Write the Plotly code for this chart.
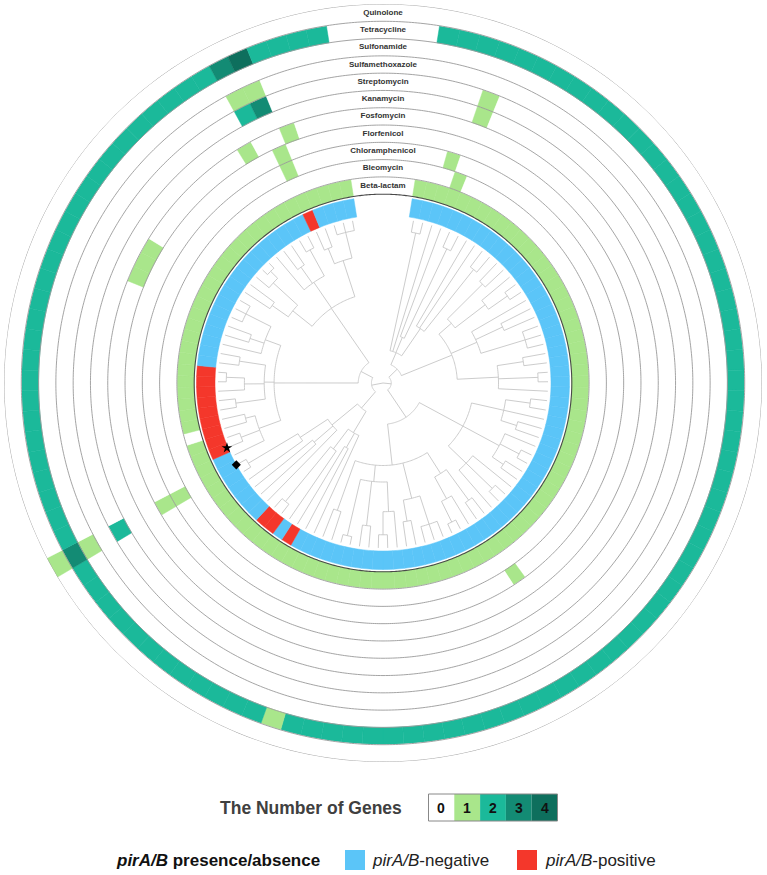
import numpy as np
import plotly.graph_objects as go

# ---------------- data ----------------
N_TIPS = 104
ANTIBIOTICS = ["Beta-lactam", "Bleomycin", "Chloramphenicol", "Florfenicol", "Fosfomycin",
               "Kanamycin", "Streptomycin", "Sulfamethoxazole", "Sulfonamide",
               "Tetracycline", "Quinolone"]          # inner -> outer ring
RING_DEFAULT = [1, 0, 0, 0, 0, 0, 0, 0, 0, 2, 0]     # value of most tips in each ring
# tip index -> number of genes, where it differs from the ring default
BETA_LACTAM = {74: 0}
BLEOMYCIN = {3: 1}
CHLORAMPHENICOL = {2: 1, 41: 1, 70: 1, 99: 1}
FLORFENICOL = {70: 1, 99: 1}
FOSFOMYCIN = {86: 1, 87: 1, 88: 1, 97: 1, 100: 1}
KANAMYCIN = {3: 1}
STREPTOMYCIN = {3: 1, 70: 2, 98: 2, 99: 3}
SULFAMETHOXAZOLE = {98: 1, 99: 1}
SULFONAMIDE = {70: 1}
TETRACYCLINE = {57: 1, 70: 3, 98: 3, 99: 4}
QUINOLONE = {70: 1}
RING_EXCEPTIONS = [BETA_LACTAM, BLEOMYCIN, CHLORAMPHENICOL, FLORFENICOL, FOSFOMYCIN,
                   KANAMYCIN, STREPTOMYCIN, SULFAMETHOXAZOLE, SULFONAMIDE,
                   TETRACYCLINE, QUINOLONE]

PIRAB_POSITIVE = [61, 63, 64, 72, 73, 74, 75, 76, 77, 78, 79, 80, 99]
STAR_TIP = 72
DIAMOND_TIP = 70

GENE_COUNTS = [0, 1, 2, 3, 4]
GENE_COLORS = ["#FFFFFF", "#A9E68B", "#1BB99A", "#138B74", "#0E6F5D"]
NEG_COLOR = "#5BC5F8"
POS_COLOR = "#F4372B"

# tree: internal node = [node radius (fraction of tip radius), children...]; L = leaf
L = 0
CLADE_A = [0.12,
           [0.20, [0.93, L, L], L, [0.30, L, [0.90, L, L]], [0.40, L, L, [0.88, L, L]]],
           [0.45,
            [0.55, [0.85, L, L], [0.78, L, [0.92, L, L]]],
            [0.62, L, [0.80, L, L], [0.90, L, L, L]],
            [0.70, [0.86, L, L], [0.94, L, L], L]]]
CLADE_B = [0.25,
           [0.55,
            [0.75, [0.90, L, L], L, [0.85, L, L]],
            [0.80, L, [0.93, L, L], [0.88, L, L]],
            [0.70, L, [0.92, L, L], L]],
           [0.50,
            [0.65, [0.88, L, L], [0.80, L, [0.94, L, L]]],
            [0.72, [0.90, L, L, L], [0.85, L, L]],
            [0.60, [0.78, L, [0.92, L, L]], [0.87, L, L], [0.95, L, L]],
            [0.82, L, L]]]
CLADE_C = [0.20,
           [0.35, L, [0.45, L, L], [0.50, L, [0.93, L, L]]],
           [0.40, L, [0.55, L, L], [0.60, L, [0.95, L, L]]]]
CLADE_D = [0.15,
           [0.66,
            [0.80, L, [0.92, L, L], [0.86, L, L]],
            [0.72, [0.90, L, L], [0.84, L, [0.95, L, L]], [0.88, L, L]],
            [0.76, L, [0.85, L, L], [0.93, L, L, L]]],
           [0.55,
            [0.70, [0.82, L, L], [0.90, L, [0.96, L, L]]],
            [0.74, L, [0.86, L, L], [0.92, L, L]],
            [0.78, [0.88, L, L], [0.94, L, L, L]]]]
TREE = [0.0, [0.05, CLADE_A, CLADE_B], [0.07, CLADE_C, CLADE_D]]

# ---------------- geometry ----------------
GAP_START, GAP_END = 351.0, 9.0          # data runs clockwise from 9 deg to 351 deg
SPAN = GAP_START - GAP_END
W = SPAN / N_TIPS
TIP_R = 165.0
PIR_IN, PIR_OUT = 168.0, 186.5
RING_IN = 188.8
RING_W = (379.0 - RING_IN) / len(ANTIBIOTICS)
tip_theta = GAP_END + W * (np.arange(N_TIPS) + 0.5)

fig = go.Figure()

# heatmap rings
for j, name in enumerate(ANTIBIOTICS):
    vals = [RING_EXCEPTIONS[j].get(k, RING_DEFAULT[j]) for k in range(N_TIPS)]
    cols = [GENE_COLORS[v] for v in vals]
    fig.add_trace(go.Barpolar(
        theta=tip_theta, r=np.full(N_TIPS, RING_W), base=np.full(N_TIPS, RING_IN + j * RING_W),
        width=np.full(N_TIPS, W),
        marker=dict(color=cols, line=dict(color=cols, width=0.5)),
        hoverinfo="skip", name=name))

# pirA/B ring
pcols = [POS_COLOR if k in PIRAB_POSITIVE else NEG_COLOR for k in range(N_TIPS)]
fig.add_trace(go.Barpolar(
    theta=tip_theta, r=np.full(N_TIPS, PIR_OUT - PIR_IN), base=np.full(N_TIPS, PIR_IN),
    width=np.full(N_TIPS, W),
    marker=dict(color=pcols, line=dict(color=pcols, width=0.5)),
    hoverinfo="skip"))

# ring outlines
full = np.linspace(0, 360, 721)
for j in range(len(ANTIBIOTICS) + 1):
    rr = RING_IN + j * RING_W
    fig.add_trace(go.Scatterpolar(
        theta=full, r=np.full_like(full, rr), mode="lines",
        line=dict(color="#4a4a4a" if j == 0 else "#9a9a9a", width=1.1 if j == 0 else 0.9),
        hoverinfo="skip"))

# tree layout
seg_t, seg_r = [], []
counter = [0]


def lay(node):
    if not isinstance(node, list):
        k = counter[0]
        counter[0] += 1
        return float(tip_theta[k]), 1.0
    nr = node[0]
    kids = [lay(c) for c in node[1:]]
    for t, cr in kids:
        seg_t.extend([t, t, np.nan])
        seg_r.extend([nr * TIP_R, cr * TIP_R, np.nan])
    t0, t1 = kids[0][0], kids[-1][0]
    if nr > 0:
        n = max(2, int(abs(t1 - t0)) + 2)
        arc = np.linspace(t0, t1, n)
        seg_t.extend(list(arc) + [np.nan])
        seg_r.extend([nr * TIP_R] * n + [np.nan])
    return (t0 + t1) / 2, nr


lay(TREE)
fig.add_trace(go.Scatterpolar(theta=np.array(seg_t, dtype=float), r=np.array(seg_r, dtype=float),
                              mode="lines", connectgaps=False,
                              line=dict(color="#c6c6c6", width=0.9), hoverinfo="skip"))

# markers on tree
fig.add_trace(go.Scatterpolar(theta=np.array([tip_theta[STAR_TIP]]), r=np.array([TIP_R + 4.0]),
                              mode="markers",
                              marker=dict(symbol="star", size=8, color="black"), hoverinfo="skip"))
fig.add_trace(go.Scatterpolar(theta=np.array([tip_theta[DIAMOND_TIP]]), r=np.array([TIP_R + 3.0]),
                              mode="markers",
                              marker=dict(symbol="diamond", size=7, color="black"), hoverinfo="skip"))

# ring labels in the gap
fig.add_trace(go.Scatterpolar(
    theta=np.zeros(len(ANTIBIOTICS)),
    r=RING_IN + (np.arange(len(ANTIBIOTICS)) + 0.5) * RING_W,
    text=["<b>%s</b>" % a for a in ANTIBIOTICS], mode="text",
    textfont=dict(family="Liberation Sans, Arial", size=8, color="#333333"),
    hoverinfo="skip"))

FW, FH = 767, 875


def px(x):
    return x / FW


def py(y):
    return 1 - y / FH


shapes, annots = [], []
# gene count legend
annots.append(dict(x=px(404), y=py(808), xref="paper", yref="paper", xanchor="right",
                   yanchor="middle", showarrow=False,
                   text="<b>The Number of Genes</b>",
                   font=dict(family="Liberation Sans, Arial", size=17.5, color="#404040")))
bx0, bw = 428.5, 25.8
for i, (c, v) in enumerate(zip(GENE_COLORS, GENE_COUNTS)):
    shapes.append(dict(type="rect", xref="paper", yref="paper",
                       x0=px(bx0 + i * bw), x1=px(bx0 + (i + 1) * bw), y0=py(821), y1=py(794),
                       fillcolor=c, line=dict(width=0)))
    annots.append(dict(x=px(bx0 + (i + 0.5) * bw), y=py(808), xref="paper", yref="paper",
                       xanchor="center", yanchor="middle", showarrow=False,
                       text="<b>%d</b>" % v,
                       font=dict(family="Liberation Sans, Arial", size=14, color="#111111")))
shapes.append(dict(type="rect", xref="paper", yref="paper", x0=px(bx0), x1=px(bx0 + 5 * bw),
                   y0=py(821), y1=py(794), line=dict(color="#888888", width=1)))

# pirA/B legend
annots.append(dict(x=px(322), y=py(860), xref="paper", yref="paper", xanchor="right",
                   yanchor="middle", showarrow=False,
                   text="<b><i>pirA/B</i> presence/absence</b>",
                   font=dict(family="Liberation Sans, Arial", size=17, color="#111111")))
shapes.append(dict(type="rect", xref="paper", yref="paper", x0=px(345), x1=px(365),
                   y0=py(870), y1=py(850), fillcolor=NEG_COLOR, line=dict(width=0)))
annots.append(dict(x=px(370), y=py(860), xref="paper", yref="paper", xanchor="left",
                   yanchor="middle", showarrow=False, text="<i>pirA/B</i>-negative",
                   font=dict(family="Liberation Sans, Arial", size=17, color="#222222")))
shapes.append(dict(type="rect", xref="paper", yref="paper", x0=px(517), x1=px(537),
                   y0=py(870), y1=py(850), fillcolor=POS_COLOR, line=dict(width=0)))
annots.append(dict(x=px(543), y=py(860), xref="paper", yref="paper", xanchor="left",
                   yanchor="middle", showarrow=False, text="<i>pirA/B</i>-positive",
                   font=dict(family="Liberation Sans, Arial", size=17, color="#222222")))

fig.update_layout(
    width=FW, height=FH, margin=dict(l=0, r=0, t=0, b=0),
    paper_bgcolor="white", plot_bgcolor="white", showlegend=False,
    shapes=shapes, annotations=annots,
    polar=dict(domain=dict(x=[4 / FW, 762 / FW], y=[1 - 762 / FH, 1 - 4 / FH]),
               bgcolor="white", bargap=0, hole=0,
               radialaxis=dict(type="linear", range=[0, 379], visible=False, showgrid=False),
               angularaxis=dict(type="linear", thetaunit="degrees", rotation=90,
                                direction="clockwise", visible=False, showgrid=False)))

fig.write_html("out.html")
